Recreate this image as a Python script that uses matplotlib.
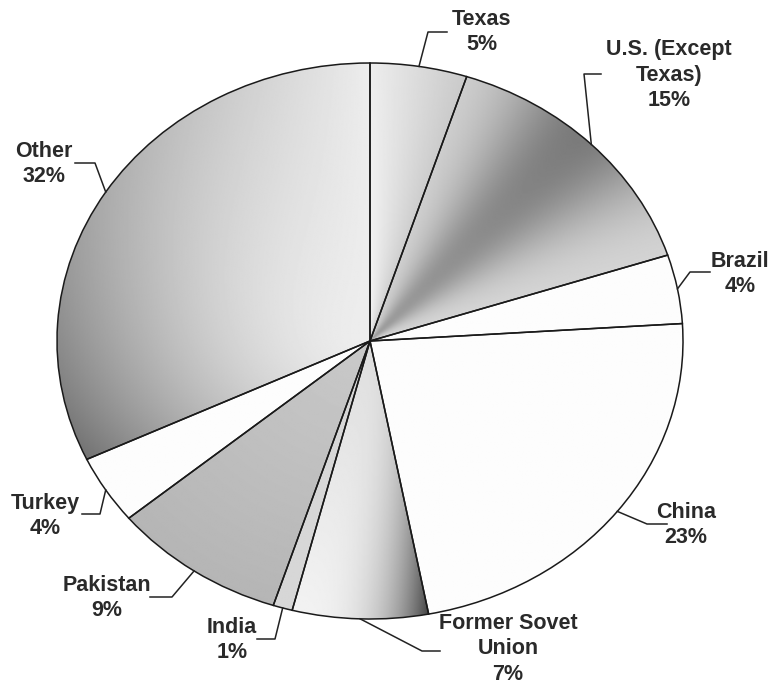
import numpy as np
import matplotlib
matplotlib.use('Agg')
import matplotlib.pyplot as plt

# Share of world cotton production (reading order: clockwise from the top)
regions = ['Texas', 'U.S. (Except\nTexas)', 'Brazil', 'China', 'Former Sovet\nUnion',
           'India', 'Pakistan', 'Turkey', 'Other']
shares = [5, 15, 4, 23, 7, 1, 9, 4, 32]

# Label layout in figure pixels: text centre, leader bend and leader end
label_xy = [(482, 32), (669, 75), (740, 274), (686, 525), (508, 649),
            (232, 640), (107, 598), (45, 516), (44, 164)]
bend_xy = [(428, 32), (584, 74), (690, 272), (647, 524), (422, 651),
           (275, 639), (172, 597), (100, 514), (95, 163)]
end_xy = [(447, 32), (601, 74), (710, 272), (667, 524), (440, 651),
          (257, 639), (150, 597), (82, 514), (75, 163)]

W, H = 776, 686
cx, cy, rx, ry = 370, 341, 313, 278

plt.rcParams['font.family'] = ['Liberation Sans', 'DejaVu Sans']

fig = plt.figure(figsize=(W / 100, H / 100), dpi=100)
fig.patch.set_facecolor('white')

# pie axes stretched so the unit circle becomes the ellipse of the scan
ax = fig.add_axes([(cx - rx) / W, 1 - (cy + ry) / H, 2 * rx / W, 2 * ry / H])
wedges, _ = ax.pie(shares, startangle=90, counterclock=False, radius=1,
                   wedgeprops=dict(edgecolor='#1a1a1a', linewidth=1.1))
ax.set_aspect('auto')

# grey shading for each wedge, as a function of position across the wedge
n = 500
gx, gy = np.meshgrid(np.linspace(-1, 1, n), np.linspace(-1, 1, n))
r = np.clip(np.hypot(gx, gy), 0, 1)
ang = np.mod(90 - np.degrees(np.arctan2(gy, gx)), 360)

def shade(i, f, r):
    if i == 0:
        return 0.96 - 0.14 * f - 0.03 * r
    if i == 1:
        return 0.84 - 0.36 * np.exp(-((f - 0.45) / 0.3) ** 2) * (0.6 + 0.4 * r)
    if i == 4:
        return 0.95 - 0.68 * (1 - f) ** 3 * r ** 2 - 0.08 * (1 - r)
    if i == 5:
        return 0.84 + 0 * f
    if i == 6:
        return 0.79 - 0.08 * r + 0 * f
    if i == 8:
        return 0.93 - 0.48 * r ** 1.6 * (1 - f) ** 0.9
    return 0.99 + 0 * f

start = 0.0
for i, (w, s) in enumerate(zip(wedges, shares)):
    span = s * 3.6
    f = np.clip((ang - start) / span, 0, 1)
    img = ax.imshow(shade(i, f, r), extent=(-1, 1, -1, 1), origin='lower',
                    cmap='gray', vmin=0, vmax=1, aspect='auto',
                    interpolation='bilinear', zorder=0)
    img.set_clip_path(w)
    w.set_facecolor('none')
    w.set_zorder(2)
    start += span

ax.set_xlim(-1.0, 1.0)
ax.set_ylim(-1.0, 1.0)
ax.axis('off')

# overlay in pixel coordinates for labels and leader lines
ov = fig.add_axes([0, 0, 1, 1])
ov.set_xlim(0, W)
ov.set_ylim(H, 0)
ov.axis('off')
ov.patch.set_alpha(0)

cum = np.cumsum([0] + shares)
for i, name in enumerate(regions):
    mid = np.radians((cum[i] + shares[i] / 2) * 3.6)
    sx = cx + rx * np.sin(mid)
    sy = cy - ry * np.cos(mid)
    bx, by = bend_xy[i]
    ex, ey = end_xy[i]
    ov.plot([sx, bx, ex], [sy, by, ey], color='#222222', lw=1.1)
    lx, ly = label_xy[i]
    ov.text(lx, ly, '%s\n%d%%' % (name, shares[i]), ha='center', va='center',
            fontsize=15.5, fontweight='bold', color='#2a2a2a', linespacing=1.3)

fig.savefig('out.png', dpi=100)
